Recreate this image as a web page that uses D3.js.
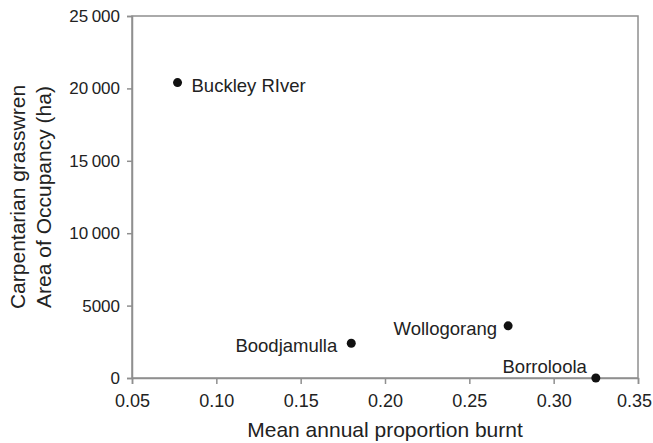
<!DOCTYPE html>
<html>
<head>
<meta charset="utf-8">
<script src="https://cdn.jsdelivr.net/npm/d3@7"></script>
<style>
  body { margin: 0; background: #fff; }
  text { font-family: "Liberation Sans", Arial, Helvetica, sans-serif; fill: #222; }
</style>
</head>
<body>
<script>
// data
var sites = ["Buckley RIver", "Boodjamulla", "Wollogorang", "Borroloola"];
var burnt = [0.077, 0.180, 0.273, 0.325];
var aoo = [20400, 2400, 3600, 0];
var xTicks = [0.05, 0.10, 0.15, 0.20, 0.25, 0.30, 0.35];
var yTicks = [0, 5000, 10000, 15000, 20000, 25000];
var yTickLabels = ["0", "5000", "10\u2009000", "15\u2009000", "20\u2009000", "25\u2009000"];

// where each label sits relative to its dot
var labelPlace = [
    { anchor: "start", dx: 14, dy: 9 },
    { anchor: "end", dx: -14, dy: 9 },
    { anchor: "end", dx: -11, dy: 9 },
    { anchor: "end", dx: -9, dy: -5 }
];

//setup
var margin = { top: 16, bottom: 65, right: 15, left: 132 };
var width = 653 - margin.left - margin.right;
var height = 443 - margin.top - margin.bottom;
var axisCol = "#8f8f8f";

var svg = d3.select("body")
    .append("svg")
    .attr("width", 653)
    .attr("height", 443)
    .append("g")
    .attr("transform", "translate(" + margin.left + "," + margin.top + ")");

var x = d3.scaleLinear().domain([0.05, 0.35]).range([0, width]);
var y = d3.scaleLinear().domain([0, 25000]).range([height, 0]);

// box
svg.append("rect")
    .attr("width", width)
    .attr("height", height)
    .attr("fill", "none")
    .attr("stroke", axisCol)
    .attr("stroke-width", 1.5);

// x axis
var gx = svg.append("g")
    .attr("transform", "translate(0," + height + ")")
    .call(d3.axisBottom(x).tickValues(xTicks).tickFormat(d3.format(".2f")).tickSize(6).tickPadding(10));
// y axis
var gy = svg.append("g")
    .call(d3.axisLeft(y).tickValues(yTicks).tickFormat(function (d, i) { return yTickLabels[i]; }).tickSize(5).tickPadding(7));

[gx, gy].forEach(function (g) {
    g.select(".domain").attr("stroke", axisCol).attr("stroke-width", 1.5);
    g.selectAll(".tick line").attr("stroke", axisCol).attr("stroke-width", 1.5);
    g.selectAll(".tick text").attr("fill", "#222")
        .attr("font-family", "Liberation Sans, Arial, sans-serif");
});
gx.selectAll(".tick text").attr("font-size", 18);
gy.selectAll(".tick text").attr("font-size", 17);
// last x label nudged so it stays on the page
gx.selectAll(".tick text").filter(function (d) { return d === 0.35; }).attr("dx", -4);

// axis titles
svg.append("text")
    .attr("x", width / 2)
    .attr("y", height + 59)
    .attr("text-anchor", "middle")
    .attr("font-size", 21)
    .text("Mean annual proportion burnt");

var yt = svg.append("text")
    .attr("transform", "translate(-107," + (height / 2) + ") rotate(-90)")
    .attr("text-anchor", "middle")
    .attr("font-size", 21);
yt.append("tspan").attr("x", 0).attr("dy", 0).text("Carpentarian grasswren");
yt.append("tspan").attr("x", 0).attr("dy", 26).text("Area of Occupancy (ha)");

// points
var pts = sites.map(function (s, i) { return { name: s, x: burnt[i], y: aoo[i], p: labelPlace[i] }; });

svg.selectAll(".dot")
    .data(pts)
    .enter().append("circle")
    .attr("class", "dot")
    .attr("cx", function (d) { return x(d.x); })
    .attr("cy", function (d) { return y(d.y); })
    .attr("r", 4.5)
    .attr("fill", "#111");

svg.selectAll(".lbl")
    .data(pts)
    .enter().append("text")
    .attr("class", "lbl")
    .attr("x", function (d) { return x(d.x) + d.p.dx; })
    .attr("y", function (d) { return y(d.y) + d.p.dy; })
    .attr("text-anchor", function (d) { return d.p.anchor; })
    .attr("font-size", 18.5)
    .text(function (d) { return d.name; });
</script>
</body>
</html>
